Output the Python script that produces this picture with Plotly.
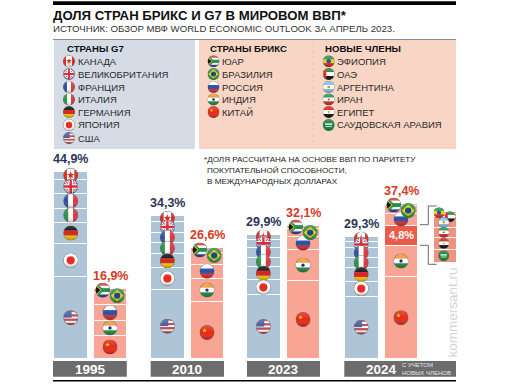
import base64
import math
import plotly.graph_objects as go

# ---------- data ----------
YEARS = ["1995", "2010", "2023", "2024"]
G7_NAMES = ["США", "Япония", "Германия", "Италия", "Франция", "Великобритания", "Канада"]
USA = [19.6, 16.7, 15.3, 15.0]
JAPAN = [8.0, 5.1, 3.6, 3.6]
GERMANY = [5.2, 3.4, 3.2, 3.2]
ITALY = [3.4, 2.6, 2.3, 2.4]
FRANCE = [3.4, 2.6, 2.4, 2.4]
UK = [3.6, 2.5, 1.8, 1.6]
CANADA = [1.7, 1.6, 1.3, 1.1]
CHINA = [5.5, 13.6, 18.7, 19.6]
INDIA = [3.6, 5.7, 7.5, 7.7]
NEW_MEMBERS = [0, 0, 0, 4.8]
RUSSIA = [3.8, 3.4, 3.1, 2.9]
BRAZIL = [2.9, 2.9, 2.0, 1.9]
SOUTH_AFRICA = [1.1, 1.0, 0.8, 0.5]
G7_TOTALS = [44.9, 34.3, 29.9, 29.3]
BRICS_TOTALS = [16.9, 26.6, 32.1, 37.4]
NEW_NAMES = ["Саудовская Аравия", "Египет", "Иран", "Аргентина", "ОАЭ", "Эфиопия"]
NEW_VALUES = [1.2, 1.1, 1.0, 1.0, 0.3, 0.2]
TITLE = "ДОЛЯ СТРАН БРИКС И G7 В МИРОВОМ ВВП*"
SUBTITLE = "ИСТОЧНИК: ОБЗОР МВФ WORLD ECONOMIC OUTLOOK ЗА АПРЕЛЬ 2023."
LEG_G7 = ["КАНАДА", "ВЕЛИКОБРИТАНИЯ", "ФРАНЦИЯ", "ИТАЛИЯ", "ГЕРМАНИЯ", "ЯПОНИЯ", "США"]
LEG_BRICS = ["ЮАР", "БРАЗИЛИЯ", "РОССИЯ", "ИНДИЯ", "КИТАЙ"]
LEG_NEW = ["ЭФИОПИЯ", "ОАЭ", "АРГЕНТИНА", "ИРАН", "ЕГИПЕТ", "САУДОВСКАЯ АРАВИЯ"]
NOTE = ["*ДОЛЯ РАССЧИТАНА НА ОСНОВЕ ВВП ПО ПАРИТЕТУ",
        "ПОКУПАТЕЛЬНОЙ СПОСОБНОСТИ,",
        "В МЕЖДУНАРОДНЫХ ДОЛЛАРАХ"]

# ---------- layout constants ----------
W, H = 512, 384
BASE_PX, PX_PER = 358.3, 4.15
INS_BASE_PX, INS_PX_PER = 262.0, 10.48
X_G7 = [70.7, 167.4, 263.4, 361.2]
X_BR = [110.0, 207.0, 303.0, 401.0]
X_INS = 444.5
BAR_W = 33.6
FONT = "Liberation Sans"
NAVY = "#2b3556"
RED = "#d8391f"
BLUE_BAR = "#aec4d7"
RED_BAR = "#f8a595"

def px(x): return x / W
def py(y): return 1 - y / H

# ---------- flags ----------
def stripes_h(*c):
    n = len(c); h = 100 / n
    return "".join(f'<rect x="0" y="{i*h}" width="100" height="{h+0.5}" fill="{k}"/>' for i, k in enumerate(c))
def stripes_v(*c):
    n = len(c); h = 100 / n
    return "".join(f'<rect y="0" x="{i*h}" height="100" width="{h+0.5}" fill="{k}"/>' for i, k in enumerate(c))
def star(cx, cy, r, col):
    pts = []
    for i in range(10):
        a = -math.pi / 2 + i * math.pi / 5
        q = r if i % 2 == 0 else r * 0.42
        pts.append(f"{cx+q*math.cos(a):.1f},{cy+q*math.sin(a):.1f}")
    return f'<polygon points="{" ".join(pts)}" fill="{col}"/>'

FLAGS = {
    "ca": stripes_v("#d62d20", "#fff", "#fff", "#d62d20") + star(50, 48, 26, "#d62d20") + '<rect x="47" y="60" width="6" height="16" fill="#d62d20"/>',
    "uk": '<rect width="100" height="100" fill="#2b4a94"/><path d="M0 0L100 100M100 0L0 100" stroke="#fff" stroke-width="20"/><path d="M0 0L100 100M100 0L0 100" stroke="#d52b3a" stroke-width="7"/><path d="M50 0V100M0 50H100" stroke="#fff" stroke-width="30"/><path d="M50 0V100M0 50H100" stroke="#d52b3a" stroke-width="17"/>',
    "fr": stripes_v("#2d4fa3", "#fff", "#e2323a"),
    "it": stripes_v("#2a9247", "#fff", "#d9363e"),
    "de": stripes_h("#111", "#d8231f", "#f7c600"),
    "jp": '<rect width="100" height="100" fill="#fff"/><circle cx="50" cy="50" r="27" fill="#e8261c"/>',
    "us": stripes_h("#c9434a", "#fff", "#c9434a", "#fff", "#c9434a", "#fff", "#c9434a") + '<rect width="56" height="50" fill="#4a5c9c"/>',
    "za": stripes_h("#d8362a", "#fff", "#1f8f4a", "#fff", "#2a3f9e") + '<path d="M0 0L50 50L0 100Z" fill="#f5c518" stroke="#1f8f4a" stroke-width="12"/><path d="M0 18L34 50L0 82Z" fill="#111"/><path d="M42 50H100" stroke="#1f8f4a" stroke-width="24"/>',
    "br": '<rect width="100" height="100" fill="#239a3b"/><polygon points="50,12 92,50 50,88 8,50" fill="#f6d10d"/><circle cx="50" cy="50" r="21" fill="#1f3f93"/>',
    "ru": stripes_h("#fff", "#2b4fa8", "#da2a2a"),
    "in": stripes_h("#f39a2b", "#fff", "#1e8a3c") + '<circle cx="50" cy="50" r="11" fill="#1d2c7a"/>',
    "cn": '<rect width="100" height="100" fill="#e62a16"/>' + star(34, 36, 15, "#f8d51a"),
    "et": stripes_h("#1f9a45", "#f4d21c", "#d8261f") + '<circle cx="50" cy="50" r="19" fill="#2a4aa0"/>',
    "ae": stripes_h("#1a8a3e", "#fff", "#111") + '<rect width="30" height="100" fill="#dd2a20"/>',
    "ar": stripes_h("#7fc3e8", "#fff", "#7fc3e8") + '<circle cx="50" cy="50" r="11" fill="#c9971c"/>',
    "ir": stripes_h("#1f9a45", "#fff", "#d8261f") + '<circle cx="50" cy="50" r="8" fill="#d8261f"/>',
    "eg": stripes_h("#d8261f", "#fff", "#111") + '<circle cx="50" cy="50" r="8" fill="#c9971c"/>',
    "sa": '<rect width="100" height="100" fill="#14843f"/><rect x="20" y="36" width="60" height="14" fill="#cfe8d4"/><rect x="24" y="58" width="52" height="7" fill="#e8f4ea"/>',
}

def flag_uri(code):
    svg = ('<svg xmlns="http://www.w3.org/2000/svg" viewBox="0 0 100 100">'
           '<defs><clipPath id="c"><circle cx="50" cy="50" r="47"/></clipPath>'
           '<linearGradient id="g" x1="0" y1="0" x2="0" y2="1"><stop offset="0" stop-color="#fff" stop-opacity=".18"/>'
           '<stop offset=".5" stop-color="#fff" stop-opacity="0"/><stop offset="1" stop-color="#000" stop-opacity=".25"/></linearGradient></defs>'
           '<circle cx="50" cy="50" r="50" fill="#6f6f6f"/>'
           f'<g clip-path="url(#c)">{FLAGS[code]}</g><circle cx="50" cy="50" r="47" fill="url(#g)"/></svg>')
    return "data:image/svg+xml;base64," + base64.b64encode(svg.encode()).decode()

URI = {k: flag_uri(k) for k in FLAGS}
images = []
def flag(code, x, y, size):
    """Flag centred on data value y of the main axis."""
    images.append(dict(source=URI[code], x=x, y=y, xref="x", yref="y", sizex=size, sizey=size / PX_PER,
                       sizing="stretch", xanchor="center", yanchor="middle", layer="above"))
def flag_pix(code, x, y, size):
    flag(code, x, (BASE_PX - y) / PX_PER, size)

# ---------- figure ----------
fig = go.Figure()
def add_bar(name, xs, vals, color, yaxis="y", width=BAR_W):
    fig.add_trace(go.Bar(name=name, x=xs, y=vals, width=width, marker=dict(color=color, line=dict(color="#fff", width=1)),
                         yaxis=yaxis, showlegend=False, hoverinfo="skip"))

for name, vals in zip(G7_NAMES, [USA, JAPAN, GERMANY, ITALY, FRANCE, UK, CANADA]):
    add_bar(name, X_G7, vals, BLUE_BAR)
add_bar("Китай", X_BR, CHINA, RED_BAR)
add_bar("Индия", X_BR, INDIA, RED_BAR)
add_bar("Новые члены", X_BR, NEW_MEMBERS, "#ea5c49")
add_bar("Россия", X_BR, RUSSIA, RED_BAR)
add_bar("Бразилия", X_BR, BRAZIL, RED_BAR)
add_bar("ЮАР", X_BR, SOUTH_AFRICA, RED_BAR)
for n, v in zip(NEW_NAMES, NEW_VALUES):
    add_bar(n, [X_INS], [v], "#f3917f", yaxis="y2", width=23)

# flags on bars, centred on their segments
G7_SERIES = [("us", USA), ("jp", JAPAN), ("de", GERMANY), ("it", ITALY), ("fr", FRANCE), ("uk", UK), ("ca", CANADA)]
for i, xc in enumerate(X_G7):
    cum = 0; items = []
    for code, vals in G7_SERIES:
        items.append((code, cum + vals[i] / 2)); cum += vals[i]
    for code, mid in reversed(items):
        if code == "us" and i == 1:
            mid -= 0.6
        flag(code, xc, mid, 15)
for i, xc in enumerate(X_BR):
    c = CHINA[i] / 2 - (0.6 if i == 1 else 0)
    ind = CHINA[i] + INDIA[i] / 2
    rus = CHINA[i] + INDIA[i] + NEW_MEMBERS[i] + RUSSIA[i] / 2
    top = BRICS_TOTALS[i]
    flag("cn", xc, c, 15)
    flag("in", xc, ind, 15)
    flag("ru", xc, rus, 15)
    flag("za", xc - 7.2, top - 2 / PX_PER, 15)
    flag("br", xc + 7.2, top - 7.5 / PX_PER, 15)

# inset flags
for code, x, y in [("et", 439, 212.7), ("ae", 450, 216.7), ("ar", 443.7, 222.3), ("ir", 443.7, 232.3), ("eg", 443.7, 243.3), ("sa", 443.7, 255.7)]:
    flag_pix(code, x, y, 11)

# legend flags
for rows, x, codes in [([61.3, 74, 87, 99.5, 112, 125, 138], 69, ["ca", "uk", "fr", "it", "de", "jp", "us"]),
                       ([61.3, 74, 87, 99.5, 112], 213.5, ["za", "br", "ru", "in", "cn"]),
                       ([61.3, 74, 87, 99.5, 112, 125], 328.7, ["et", "ae", "ar", "ir", "eg", "sa"])]:
    for y, code in zip(rows, codes):
        flag_pix(code, x, y, 12)

shapes = []
def rect(x0, y0, x1, y1, color, layer="below"):
    shapes.append(dict(type="rect", xref="x", yref="paper", x0=x0, x1=x1, y0=py(y0), y1=py(y1),
                       fillcolor=color, line=dict(width=0), layer=layer))
def line(pts, color="#6b6b6b", width=1, dash=None, layer="below"):
    for (a, b), (c, d) in zip(pts, pts[1:]):
        shapes.append(dict(type="line", xref="x", yref="paper", x0=a, x1=c, y0=py(b), y1=py(d),
                           line=dict(color=color, width=width, dash=dash or "solid"), layer=layer))

rect(53, 1.3, 456, 5, "#000")
rect(54, 40, 195, 149, "#d5dce6")
rect(199, 40, 456, 149, "#f8d5c4")
line([(53, 39.5), (456, 39.5)], "#8a8a8a", 1)
line([(313, 44), (313, 145)], "#f1c4ae", 1, "dot")
for x0, x1 in [(53, 126.8), (150.7, 224), (247, 320), (344.3, 456)]:
    rect(x0, 361, x1, 376.7, "#6c6c6c")
line([(53, 380.7), (456, 380.7)], "#000", 1.4)
line([(420, 224.7), (428.3, 224.7), (428.3, 206), (436.7, 206)], "#6b6b6b", 1)
line([(420, 245.3), (428.3, 245.3), (428.3, 264.3), (436.7, 264.3)], "#6b6b6b", 1)

ann = []
def txt(x, y, s, size, color="#2a2a2a", bold=False, anchor="left", angle=0):
    ann.append(dict(x=px(x), y=py(y), xref="paper", yref="paper", text=f"<b>{s}</b>" if bold else s,
                    showarrow=False, xanchor=anchor, yanchor="middle", textangle=angle,
                    font=dict(family=FONT, size=size, color=color), borderpad=0, borderwidth=0))

txt(53, 15.3, TITLE, 13.2, "#111", True)
txt(53, 28.8, SUBTITLE, 9.65, "#333")
txt(66.5, 48.3, "СТРАНЫ G7", 9.6, "#111", True)
txt(210, 48.3, "СТРАНЫ БРИКС", 9.6, "#111", True)
txt(324.7, 48.3, "НОВЫЕ ЧЛЕНЫ", 9.6, "#111", True)
for rows, x, labels in [([61.3, 74, 87, 99.5, 112, 125, 138], 78, LEG_G7),
                        ([61.3, 74, 87, 99.5, 112], 222, LEG_BRICS),
                        ([61.3, 74, 87, 99.5, 112, 125], 336.5, LEG_NEW)]:
    for y, s in zip(rows, labels):
        txt(x, y, s, 9.5, "#2a2a2a")
txt(204, 159, NOTE[0], 8.1, "#222")
txt(206.5, 170.3, NOTE[1], 8.1, "#222")
txt(206.5, 182, NOTE[2], 8.1, "#222")

# value labels tied to the data
def fmt(v): return f"{v:.1f}%".replace(".", ",")
for i in range(4):
    ann.append(dict(x=X_G7[i], y=G7_TOTALS[i], xref="x", yref="y", text=f"<b>{fmt(G7_TOTALS[i])}</b>", showarrow=False,
                    yanchor="middle", yshift=12.5, font=dict(family=FONT, size=12.5, color=NAVY)))
    ann.append(dict(x=X_BR[i], y=BRICS_TOTALS[i], xref="x", yref="y", text=f"<b>{fmt(BRICS_TOTALS[i])}</b>", showarrow=False,
                    yanchor="middle", yshift=12.5, font=dict(family=FONT, size=12.5, color=RED)))
ann.append(dict(x=X_BR[3], y=CHINA[3] + INDIA[3] + NEW_MEMBERS[3] / 2, xref="x", yref="y", text=f"<b>{fmt(NEW_MEMBERS[3])}</b>",
                showarrow=False, yanchor="middle", font=dict(family=FONT, size=11, color="#fff")))

for x, y in zip([90, 187, 283.5, 381], YEARS):
    txt(x, 369.3, y, 13.5, "#fff", True, "center")
txt(401.5, 365.2, "С УЧЕТОМ", 6, "#e8e8e8")
txt(401.5, 372.6, "НОВЫХ ЧЛЕНОВ", 6, "#e8e8e8")
txt(451.5, 313, "kommersant.ru", 13.5, "#cfd4d8", False, "center", -90)

fig.update_layout(
    width=W, height=H, margin=dict(l=0, r=0, t=0, b=0), paper_bgcolor="#fff", plot_bgcolor="rgba(0,0,0,0)",
    barmode="stack", showlegend=False, images=images, shapes=shapes, annotations=ann,
    xaxis=dict(range=[0, W], visible=False, fixedrange=True),
    yaxis=dict(range=[-(H - BASE_PX) / PX_PER, BASE_PX / PX_PER], visible=False, fixedrange=True),
    yaxis2=dict(range=[-(H - INS_BASE_PX) / INS_PX_PER, INS_BASE_PX / INS_PX_PER], visible=False, fixedrange=True, overlaying="y"),
)
fig.write_html("out.html", config=dict(displayModeBar=False),
               post_script="document.body.style.margin='0';document.documentElement.style.overflow='hidden';")
